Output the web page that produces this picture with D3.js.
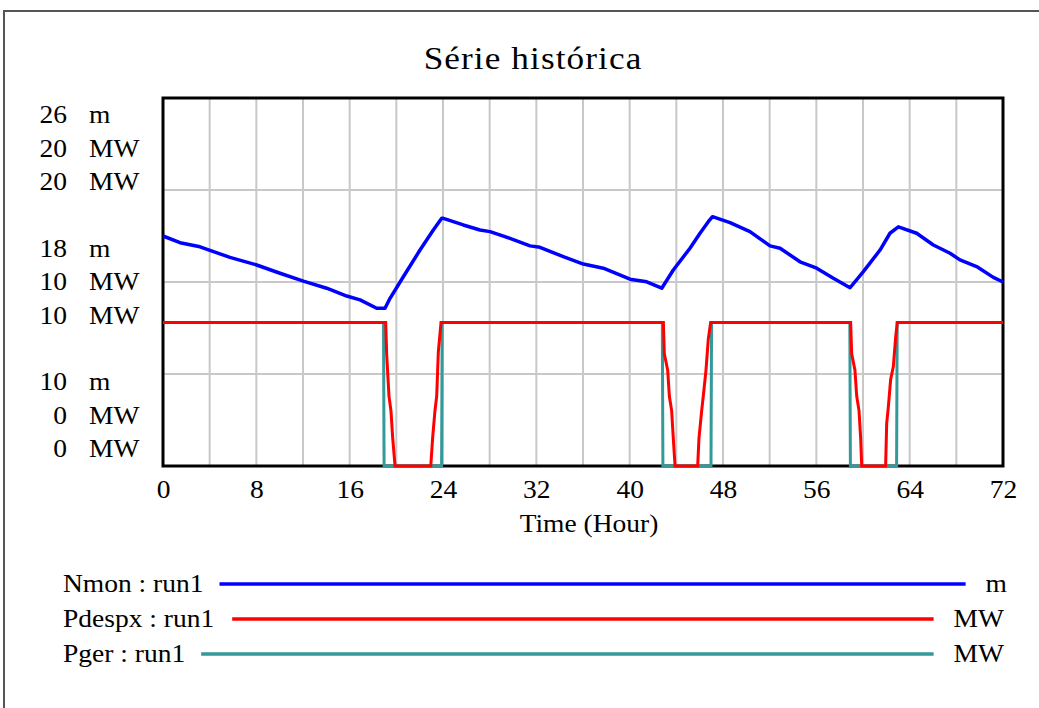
<!DOCTYPE html>
<html>
<head>
<meta charset="utf-8">
<script src="https://cdn.jsdelivr.net/npm/d3@7"></script>
<style>
  html, body { margin: 0; padding: 0; background: #fff; }
  svg { display: block; }
  text { font-family: "Liberation Serif", "Times New Roman", serif; fill: #000; }
</style>
</head>
<body>
<svg id="chart" width="1039" height="708"></svg>
<script>
// ---------- DATA ----------
const title = "Série histórica";
const xTicks = [0, 8, 16, 24, 32, 40, 48, 56, 64, 72];
const xLabel = "Time (Hour)";

// left axis labels: [top, middle, bottom] per series
const nmonAxis = [26, 18, 10];
const pdespxAxis = [20, 10, 0];
const pgerAxis = [20, 10, 0];
const units = ["m", "MW", "MW"];
const seriesNames = ["Nmon : run1", "Pdespx : run1", "Pger : run1"];
const seriesColors = ["#0000ff", "#ff0000", "#339999"];

// Nmon (m)
const nmonTime = [0, 1.46, 3.17, 5.74, 8.03, 10.03, 12.03, 14.03, 15.75, 16.89, 18.32, 19.03,
  19.46, 20.6, 22.03, 23.17, 23.89, 24.03, 25.74, 27.17, 28.03, 29.74, 31.46, 32.31, 34.31,
  36.03, 37.74, 40.03, 41.46, 42.75, 43.74, 45.17, 46.03, 46.74, 47.1, 48.6, 50.31, 52.03,
  52.89, 54.6, 56.03, 57.46, 58.89, 60.03, 61.46, 62.31, 63.03, 64.6, 66.03, 67.46, 68.31,
  69.74, 71.17, 72];
const nmonValues = [20.0, 19.71, 19.53, 19.07, 18.74, 18.38, 18.04, 17.73, 17.39, 17.22, 16.86, 16.86,
  17.29, 18.23, 19.39, 20.26, 20.77, 20.77, 20.48, 20.26, 20.19, 19.90, 19.57, 19.51, 19.10,
  18.78, 18.60, 18.12, 18.01, 17.73, 18.52, 19.47, 20.12, 20.62, 20.84, 20.58, 20.19, 19.57,
  19.47, 18.88, 18.60, 18.16, 17.75, 18.45, 19.39, 20.12, 20.40, 20.12, 19.61, 19.25, 18.96,
  18.67, 18.20, 18.0];

// Pdespx (MW)
const pdespxTime = [0, 19.09, 19.17, 19.37, 19.54, 19.69, 19.89, 22.95, 23.12, 23.31, 23.46, 23.6, 23.83,
  42.89, 42.97, 43.26, 43.4, 43.6, 43.74, 43.89, 45.83, 45.94, 46.17, 46.31, 46.54, 46.74, 46.94,
  58.94, 59.03, 59.31, 59.46, 59.66, 59.8, 59.89, 61.94, 62.03, 62.17, 62.37, 62.6, 62.8, 62.94, 72];
const pdespxValues = [7.8, 7.8, 6.1, 3.8, 3.0, 1.5, 0, 0, 1.6, 3.0, 3.8, 6.2, 7.8,
  7.8, 6.1, 5.2, 3.8, 3.0, 1.5, 0, 0, 1.5, 3.0, 3.8, 5.2, 6.9, 7.8,
  7.8, 6.1, 5.2, 3.8, 3.0, 1.5, 0, 0, 2.3, 3.2, 4.7, 5.4, 7.0, 7.8, 7.8];

// Pger (MW)
const pgerTime = [0, 18.9, 18.95, 23.88, 23.93, 42.8, 42.85, 46.97, 47.02, 58.87, 58.92, 62.88, 62.93, 72];
const pgerValues = [7.8, 7.8, 0, 0, 7.8, 7.8, 0, 0, 7.8, 7.8, 0, 0, 7.8, 7.8];

// ---------- LAYOUT ----------
const W = 1039, H = 708;
const plot = { left: 163, top: 98, width: 840, height: 368 };
const FS = 25, SX = 1.1;
const svg = d3.select("#chart");

const x = d3.scaleLinear().domain([0, 72]).range([plot.left, plot.left + plot.width]);
const yM = d3.scaleLinear().domain([nmonAxis[2], nmonAxis[0]]).range([plot.top + plot.height, plot.top]);
const yP = d3.scaleLinear().domain([pdespxAxis[2], pdespxAxis[0]]).range([plot.top + plot.height, plot.top]);
const yG = d3.scaleLinear().domain([pgerAxis[2], pgerAxis[0]]).range([plot.top + plot.height, plot.top]);

// stretched text helper
function addText(parent, tx, ty, str, size, anchor, sx) {
  const g = parent.append("g").attr("transform", `translate(${tx},${ty}) scale(${sx},1)`);
  const t = g.append("text").attr("x", 0).attr("y", 0)
    .attr("font-family", "Liberation Serif").attr("font-size", size)
    .attr("text-anchor", anchor || "start").text(str);
  return t;
}

// outer frame (top & left edges)
svg.append("line").attr("x1", 4).attr("x2", W).attr("y1", 11).attr("y2", 11)
  .attr("stroke", "#555").attr("stroke-width", 2);
svg.append("line").attr("x1", 4).attr("x2", 4).attr("y1", 10).attr("y2", H)
  .attr("stroke", "#555").attr("stroke-width", 2);

// title
addText(svg, 533, 69, title, 32, "middle", 1.1).attr("letter-spacing", 1);

// gridlines
const gridX = d3.range(0, 73, 4);
const gridY = d3.range(0, 5).map(i => plot.top + i * plot.height / 4);
svg.append("g").selectAll("line").data(gridX).join("line")
  .attr("x1", d => x(d)).attr("x2", d => x(d))
  .attr("y1", plot.top).attr("y2", plot.top + plot.height)
  .attr("stroke", "#c8c8c8").attr("stroke-width", 2);
svg.append("g").selectAll("line").data(gridY).join("line")
  .attr("x1", plot.left).attr("x2", plot.left + plot.width)
  .attr("y1", d => d).attr("y2", d => d)
  .attr("stroke", "#c8c8c8").attr("stroke-width", 2);

// plot frame
svg.append("rect").attr("x", plot.left).attr("y", plot.top)
  .attr("width", plot.width).attr("height", plot.height)
  .attr("fill", "none").attr("stroke", "#000").attr("stroke-width", 3);

// x axis labels
const xAxis = d3.axisBottom(x).tickValues(xTicks).tickSize(0).tickPadding(0);
const gx = svg.append("g").attr("transform", `translate(0,${plot.top + plot.height})`).call(xAxis);
gx.select(".domain").remove();
gx.selectAll("text").attr("font-family", "Liberation Serif").attr("font-size", FS)
  .attr("fill", "#000").attr("dy", null).attr("y", 32)
  .attr("transform", `scale(${SX},1)`);

addText(svg, 589, 532, xLabel, FS, "middle", SX);

// left stacked axis labels
const axes = [nmonAxis, pdespxAxis, pgerAxis];
const rowGap = 33.5;
const groupCenters = [plot.top + 17 + rowGap, plot.top + plot.height / 2, plot.top + plot.height - 17 - rowGap];
const labelG = svg.append("g");
groupCenters.forEach((c, gi) => {
  axes.forEach((ax, si) => {
    const yy = c + (si - 1) * rowGap + 8;
    addText(labelG, 67, yy, ax[gi], FS, "end", SX);
    addText(labelG, 89, yy, units[si], FS, "start", SX);
  });
});

// series
const lineGen = (ys) => d3.line().x(d => x(d[0])).y(d => ys(d[1]));
const nmonData = d3.zip(nmonTime, nmonValues);
const pdespxData = d3.zip(pdespxTime, pdespxValues);
const pgerData = d3.zip(pgerTime, pgerValues);

svg.append("path").datum(pgerData).attr("d", lineGen(yG))
  .attr("fill", "none").attr("stroke", seriesColors[2]).attr("stroke-width", 3);
svg.append("path").datum(pdespxData).attr("d", lineGen(yP))
  .attr("fill", "none").attr("stroke", seriesColors[1]).attr("stroke-width", 3);
svg.append("path").datum(nmonData).attr("d", lineGen(yM))
  .attr("fill", "none").attr("stroke", seriesColors[0]).attr("stroke-width", 3.5)
  .attr("stroke-linejoin", "round");

// legend
const legendY = [584, 619, 654];
const unitRight = [1007, 1004, 1004];
const gapAfter = [16, 18, 16];
seriesNames.forEach((name, i) => {
  const t = addText(svg, 63, legendY[i] + 8, name, FS, "start", SX);
  const tw = t.node().getComputedTextLength() * SX;
  const u = addText(svg, unitRight[i], legendY[i] + 8, units[i], FS, "end", SX);
  const uw = u.node().getComputedTextLength() * SX;
  svg.append("line").attr("x1", 63 + tw + gapAfter[i]).attr("x2", unitRight[i] - uw - 20)
    .attr("y1", legendY[i]).attr("y2", legendY[i])
    .attr("stroke", seriesColors[i]).attr("stroke-width", 3.5);
});
</script>
</body>
</html>
